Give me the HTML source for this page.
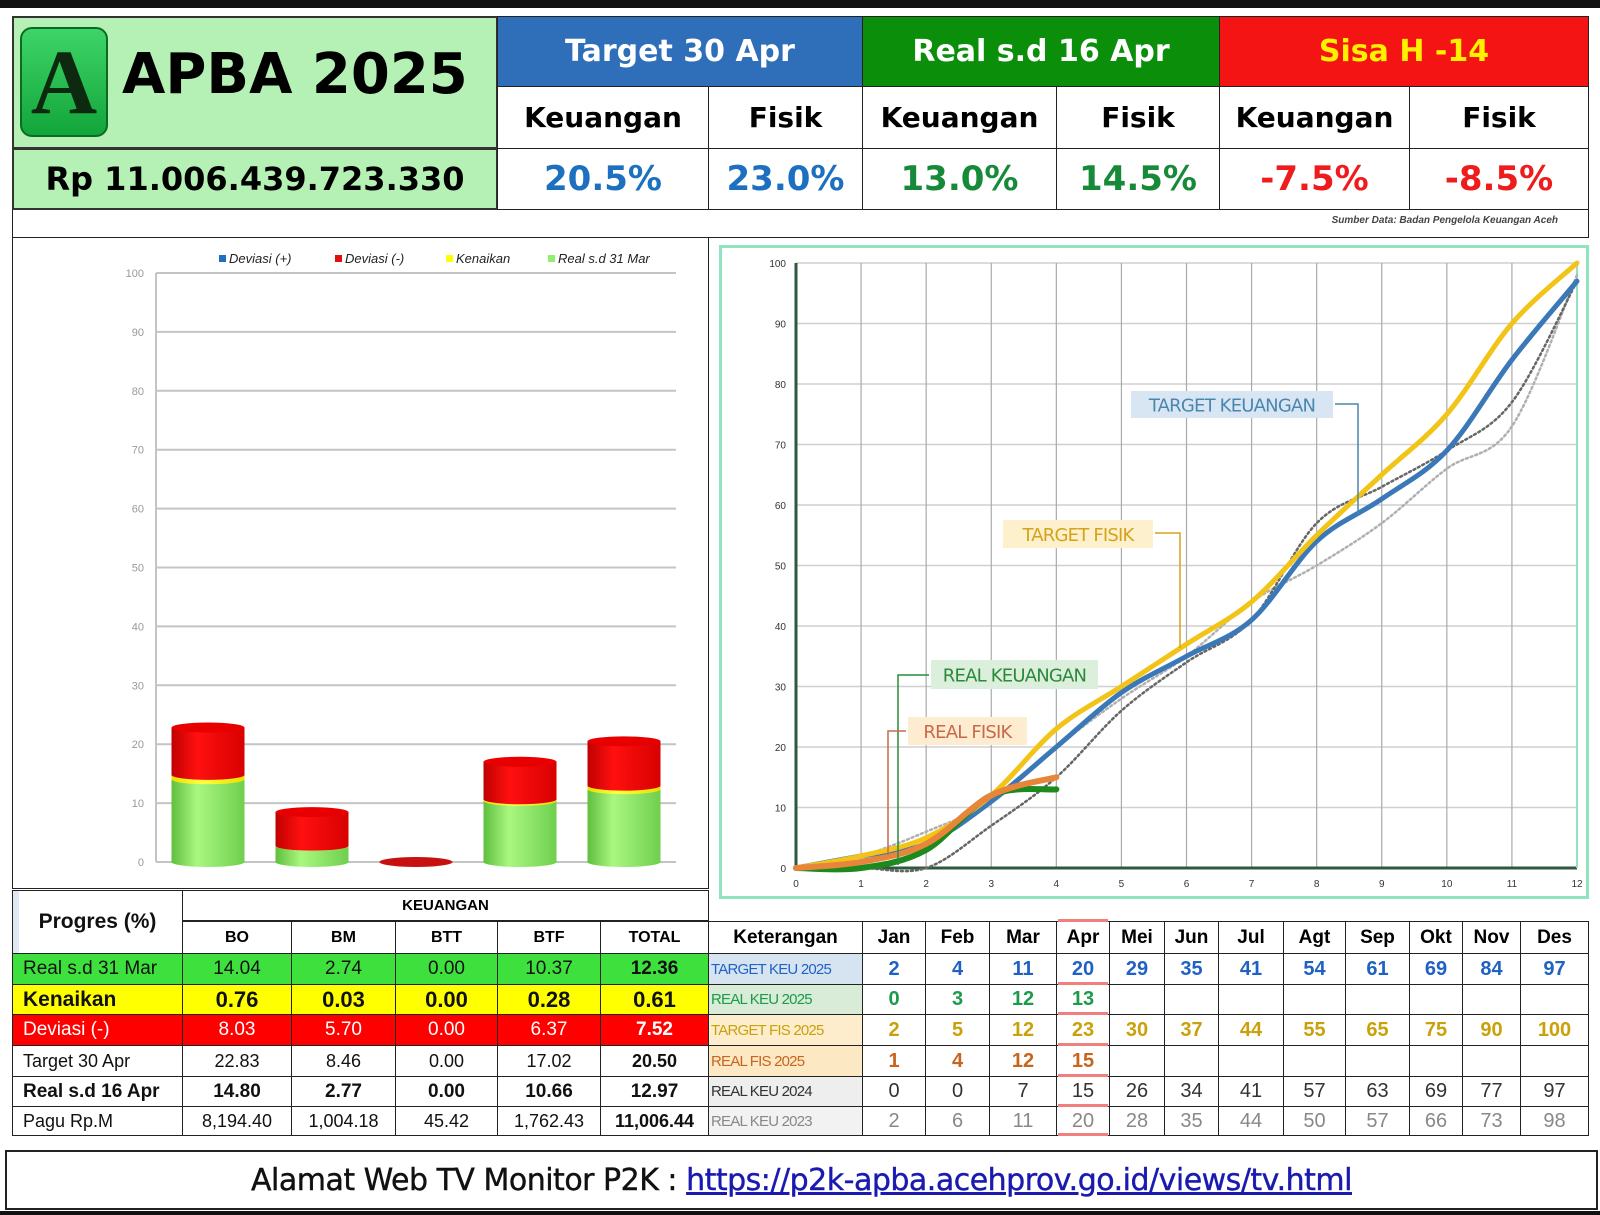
<!DOCTYPE html>
<html><head><meta charset="utf-8"><title>APBA 2025</title>
<style>
*{box-sizing:border-box}
body{margin:0;width:1600px;height:1215px;background:#fff;position:relative;overflow:hidden;font-family:"Liberation Sans",sans-serif}
.a{position:absolute}
.c{position:absolute;display:flex;align-items:center;justify-content:center;border:1px solid #222;white-space:nowrap}
.hb{font-family:"DejaVu Sans","Liberation Sans",sans-serif;font-weight:bold}
.n{font-family:"Liberation Sans Narrow","Liberation Sans",sans-serif}
</style></head><body>
<div class="a" style="left:0;top:0;width:1600px;height:8px;background:#111"></div>
<div class="a" style="left:0;top:1211px;width:1600px;height:4px;background:#111"></div>

<div class="c" style="left:12px;top:16px;width:486px;height:133px;background:#b5f0b5;border:2px solid #333"></div>
<div class="a" style="left:20px;top:27px;width:88px;height:110px;border-radius:12px;background:linear-gradient(#3fd468,#12a63a);border:2px solid #0c6a24;display:flex;align-items:center;justify-content:center;font-family:'Liberation Serif',serif;font-size:92px;font-weight:bold;color:#0d2a10">A</div>
<div class="a hb" style="left:122px;top:42px;font-size:56px;color:#000">APBA 2025</div>
<div class="c hb" style="left:12px;top:148px;width:486px;height:62px;background:#b5f0b5;font-size:32px;border:2px solid #333">Rp 11.006.439.723.330</div>

<div class="c hb" style="left:497px;top:16px;width:366px;height:71px;background:#2f6fba;color:#fff;font-size:30px">Target 30 Apr</div>
<div class="c hb" style="left:862px;top:16px;width:358px;height:71px;background:#0b8f0b;color:#fff;font-size:30px">Real s.d 16 Apr</div>
<div class="c hb" style="left:1219px;top:16px;width:370px;height:71px;background:#f41414;color:#ffef00;font-size:30px">Sisa H -14</div>

<div class="c hb" style="left:497px;top:86px;width:212px;height:63px;font-size:28px">Keuangan</div>
<div class="c hb" style="left:708px;top:86px;width:155px;height:63px;font-size:28px">Fisik</div>
<div class="c hb" style="left:862px;top:86px;width:195px;height:63px;font-size:28px">Keuangan</div>
<div class="c hb" style="left:1056px;top:86px;width:164px;height:63px;font-size:28px">Fisik</div>
<div class="c hb" style="left:1219px;top:86px;width:191px;height:63px;font-size:28px">Keuangan</div>
<div class="c hb" style="left:1409px;top:86px;width:180px;height:63px;font-size:28px">Fisik</div>

<div class="c hb" style="left:497px;top:148px;width:212px;height:62px;font-size:34px;color:#1d70c0">20.5%</div>
<div class="c hb" style="left:708px;top:148px;width:155px;height:62px;font-size:34px;color:#1d70c0">23.0%</div>
<div class="c hb" style="left:862px;top:148px;width:195px;height:62px;font-size:34px;color:#178a3a">13.0%</div>
<div class="c hb" style="left:1056px;top:148px;width:164px;height:62px;font-size:34px;color:#178a3a">14.5%</div>
<div class="c hb" style="left:1219px;top:148px;width:191px;height:62px;font-size:34px;color:#ee1c1c">-7.5%</div>
<div class="c hb" style="left:1409px;top:148px;width:180px;height:62px;font-size:34px;color:#ee1c1c">-8.5%</div>

<div class="a" style="left:12px;top:209px;width:1577px;height:29px;border:1px solid #222;border-top:none"></div>
<div class="a" style="left:1200px;top:215px;width:358px;text-align:right;font-size:10px;font-style:italic;font-weight:bold;color:#444">Sumber Data: Badan Pengelola Keuangan Aceh</div>

<div class="a" style="left:12px;top:237px;width:697px;height:652px;border:1px solid #222;border-top:none"></div>
<div class="a" style="left:719px;top:245px;width:870px;height:654px;border:3px solid #8fe3bf"></div>

<svg class="a" style="left:0;top:0" width="1600" height="1215" id="charts">
<defs>
<linearGradient id="gG" x1="0" x2="1"><stop offset="0" stop-color="#5fbf3f"/><stop offset=".35" stop-color="#a9f77f"/><stop offset="1" stop-color="#6fcf4f"/></linearGradient>
<linearGradient id="gR" x1="0" x2="1"><stop offset="0" stop-color="#c00000"/><stop offset=".35" stop-color="#ff1010"/><stop offset="1" stop-color="#d80000"/></linearGradient>
<linearGradient id="gY" x1="0" x2="1"><stop offset="0" stop-color="#e8e000"/><stop offset=".4" stop-color="#ffff40"/><stop offset="1" stop-color="#e8e000"/></linearGradient>
</defs>
<g id="bars"></g>
<g id="lines"></g>
</svg>

<div id="tables"></div>

<div class="a" style="left:5px;top:1150px;width:1593px;height:60px;border:2px solid #222;display:flex;align-items:center;justify-content:center;font-family:'DejaVu Sans',sans-serif;font-size:30px;color:#111;letter-spacing:-0.5px;-webkit-text-stroke:0.4px #111">
<span>Alamat Web TV Monitor P2K :&nbsp;</span><span style="color:#1a1ab0;text-decoration:underline;-webkit-text-stroke:0.4px #1a1ab0">https://p2k-apba.acehprov.go.id/views/tv.html</span>
</div>

<script>
const NS='http://www.w3.org/2000/svg';
function mk(tag,attrs,parent){const e=document.createElementNS(NS,tag);for(const k in attrs)e.setAttribute(k,attrs[k]);parent.appendChild(e);return e;}

const barCategories=['BO','BM','BTT','BTF','TOTAL'];
const barReal31Mar=[14.04,2.74,0.00,10.37,12.36];
const barKenaikan=[0.76,0.03,0.00,0.28,0.61];
const barDeviasiMin=[8.03,5.70,0.00,6.37,7.52];
const barYTicks=[0,10,20,30,40,50,60,70,80,90,100];

const bg=document.getElementById('bars');
const bx0=156,bx1=676,by0=862,by100=273;
function yB(v){return by0+(by100-by0)*v/100;}
const bandW=(bx1-bx0)/barCategories.length;
function xB(i){return bx0+bandW*(i+0.5);}
barYTicks.forEach(t=>{
  const l=mk('line',{x1:bx0,x2:bx1,y1:yB(t),y2:yB(t),stroke:'#c4c4c4','stroke-width':2},bg);
  
  
  const tx=mk('text',{x:bx0-12,y:yB(t)+4,'text-anchor':'end','font-size':11,fill:'#999','font-family':'Liberation Sans'},bg);
  tx.textContent=t;
  
  
});
const ax=mk('line',{x1:bx0,x2:bx0,y1:by100,y2:by0,stroke:'#c4c4c4','stroke-width':2},bg);


const bw=73,rx=bw/2,ry=5;
barCategories.forEach((c,i)=>{
  const cx=xB(i);
  const segs=[[barReal31Mar[i],'url(#gG)'],[barKenaikan[i],'url(#gY)'],[barDeviasiMin[i],'url(#gR)']];
  let base=0;
  const g=mk('g',{},bg);
  
  
  segs.forEach(s=>{
    const y1=yB(base),y2=yB(base+s[0]);
    if(s[0]>0){
      const p=mk('path',{d:`M${cx-rx},${y2} L${cx-rx},${y1} A${rx},${ry} 0 0 0 ${cx+rx},${y1} L${cx+rx},${y2} Z`,fill:s[1]},g);
      
      
    }
    base+=s[0];
  });
  const top=mk('ellipse',{cx:cx,cy:yB(base),rx:rx,ry:ry,fill:base>0?'#e80000':'#c81010'},g);
  
  
});
const legendItems=[['Deviasi (+)','#1f6fc0',219],['Deviasi  (-)','#e01010',335],['Kenaikan','#ffff00',446],['Real s.d 31 Mar','#90ee70',548]];
legendItems.forEach(L=>{
  const r=mk('rect',{x:L[2],y:255,width:7,height:7,fill:L[1]},bg);
  
  
  const t=mk('text',{x:L[2]+10,y:263,'font-size':13,'font-style':'italic',fill:'#222','font-family':'Liberation Sans Narrow, Liberation Sans'},bg);
  t.textContent=L[0];
  
  
});

const lineX=[0,1,2,3,4,5,6,7,8,9,10,11,12];
const lineXTicks=['0','1','2','3','4','5','6','7','8','9','10','11','12'];
const lineYTicks=[0,10,20,30,40,50,60,70,80,90,100];
const targetKeu2025=[0,2,4,11,20,29,35,41,54,61,69,84,97];
const realKeu2025=[0,0,3,12,13];
const targetFis2025=[0,2,5,12,23,30,37,44,55,65,75,90,100];
const realFis2025=[0,1,4,12,15];
const realKeu2024=[0,0,0,7,15,26,34,41,57,63,69,77,97];
const realKeu2023=[0,2,6,11,20,28,35,44,50,57,66,73,98];

const lg=document.getElementById('lines');
const lx0=796,lx12=1577,ly0=868,ly100=263;
function xL(m){return lx0+(lx12-lx0)*m/12;}
function yL(v){return ly0+(ly100-ly0)*v/100;}
lineYTicks.forEach(t=>{
  const l=mk('line',{x1:lx0,x2:lx12,y1:yL(t),y2:yL(t),stroke:'#cfcfcf','stroke-width':1.5},lg);
  
  
  const tx=mk('text',{x:lx0-10,y:yL(t)+4,'text-anchor':'end','font-size':10,fill:'#333','font-family':'Liberation Sans'},lg);
  tx.textContent=t;
  
  
});
lineX.forEach((m,i)=>{
  const l=mk('line',{x1:xL(m),x2:xL(m),y1:ly100,y2:ly0,stroke:'#aaa','stroke-width':1.2},lg);
  
  
  const tx=mk('text',{x:xL(m),y:ly0+19,'text-anchor':'middle','font-size':10,fill:'#333','font-family':'Liberation Sans'},lg);
  tx.textContent=lineXTicks[i];
  
  
});
const axy=mk('path',{d:`M${lx0},${ly100} L${lx0},${ly0} L${lx12},${ly0}`,fill:'none',stroke:'#2d5a3d','stroke-width':3},lg);


const rb=mk('line',{x1:lx12,x2:lx12,y1:ly100,y2:ly0,stroke:'#8fe3bf','stroke-width':2},lg);



function smooth(vals){
  const p=vals.map((v,i)=>[xL(lineX[i]),yL(v)]);
  let d=`M${p[0][0]},${p[0][1]}`;
  for(let i=0;i<p.length-1;i++){
    const p0=p[Math.max(0,i-1)],p1=p[i],p2=p[i+1],p3=p[Math.min(p.length-1,i+2)];
    const c1=[p1[0]+(p2[0]-p0[0])/6,p1[1]+(p2[1]-p0[1])/6];
    const c2=[p2[0]-(p3[0]-p1[0])/6,p2[1]-(p3[1]-p1[1])/6];
    d+=` C${c1[0]},${c1[1]} ${c2[0]},${c2[1]} ${p2[0]},${p2[1]}`;
  }
  return d;
}
function series(vals,color,w,dash,name){
  const p=mk('path',{d:smooth(vals),fill:'none',stroke:color,'stroke-width':w,'stroke-linecap':'round'},lg);
  if(dash)p.setAttribute('stroke-dasharray',dash);
  
  
}
series(realKeu2023,'#b0b0b0',2.5,'2 3','series-real-keu-2023');
series(realKeu2024,'#666',2.5,'2 3','series-real-keu-2024');
series(targetKeu2025,'#3a78b8',5,null,'series-target-keu-2025');
series(targetFis2025,'#f2c417',5,null,'series-target-fis-2025');
series(realKeu2025,'#1c8a1c',6,null,'series-real-keu-2025');
series(realFis2025,'#e8853a',6,null,'series-real-fis-2025');

function callout(txt,x,y,w,h,bgc,fc,path,lc,name){
  const pl=mk('path',{d:path,fill:'none',stroke:lc,'stroke-width':1.5},lg);
  
  
  const r=mk('rect',{x:x,y:y,width:w,height:h,fill:bgc},lg);
  
  
  const t=mk('text',{x:x+w/2,y:y+h/2+7,'text-anchor':'middle','font-size':18,fill:fc,'font-family':'DejaVu Sans, Liberation Sans','letter-spacing':'-0.8'},lg);
  t.textContent=txt;
  
  
}
callout('TARGET KEUANGAN',1131,391,202,27,'#d8e6f3','#4a86b0','M1335,404 L1358,404 L1358,515','#4a86b0','target-keuangan-callout');
callout('TARGET FISIK',1003,520,150,28,'#fdf0cc','#d6a21a','M1155,533 L1180,533 L1180,648','#d6a21a','target-fisik-callout');
callout('REAL KEUANGAN',931,660,167,29,'#dcefdc','#2a8a3a','M929,675 L898,675 L898,865','#2a8a3a','real-keuangan-callout');
callout('REAL FISIK',908,717,119,28,'#fdecd0','#c86a4a','M906,731 L888,731 L888,855','#c86a4a','real-fisik-callout');

const tbl=document.getElementById('tables');
function cell(x,y,w,h,txt,st,name){
  const d=document.createElement('div');
  d.className='c n';
  d.style.cssText=`left:${x}px;top:${y}px;width:${w+1}px;height:${h+1}px;`+(st||'');
  d.textContent=txt;
  
  
  tbl.appendChild(d);
  return d;
}
const rowY=[953,984,1014,1045,1076,1106,1135];
const leftCols=[12,182,291,395,497,600,708];
const progresLabels=['Real s.d 31 Mar','Kenaikan','Deviasi  (-)','Target 30 Apr','Real s.d 16 Apr','Pagu Rp.M'];
const progresValues=[
 ['14.04','2.74','0.00','10.37','12.36'],
 ['0.76','0.03','0.00','0.28','0.61'],
 ['8.03','5.70','0.00','6.37','7.52'],
 ['22.83','8.46','0.00','17.02','20.50'],
 ['14.80','2.77','0.00','10.66','12.97'],
 ['8,194.40','1,004.18','45.42','1,762.43','11,006.44']];
const rowStyles=[
 'background:#3ee03e;font-size:19px;color:#111;',
 'background:#ffff00;font-size:22px;font-weight:bold;color:#111;',
 'background:#f00;font-size:19px;color:#fff;',
 'background:#fff;font-size:18px;color:#111;',
 'background:#fff;font-size:19px;font-weight:bold;color:#111;',
 'background:#fff;font-size:18px;color:#111;'];
cell(12,890,170,63,'Progres (%)','background:linear-gradient(90deg,#dfe8f3 0 6px,#fff 6px);font-size:21px;font-weight:bold;color:#111;','progres-header');
cell(182,890,526,31,'KEUANGAN','font-size:15px;font-weight:bold;border-bottom:2px solid #222;','keuangan-header');
barCategories.forEach((c,i)=>cell(leftCols[i+1],921,leftCols[i+2]-leftCols[i+1],32,c,'font-size:16px;font-weight:bold;','col-'+c.toLowerCase()));
progresLabels.forEach((lab,r)=>{
  cell(12,rowY[r],170,rowY[r+1]-rowY[r],lab,rowStyles[r]+'justify-content:flex-start;padding-left:10px;'+(r==1?'font-size:21px;':''),'row-label');
  progresValues[r].forEach((v,i)=>{
    cell(leftCols[i+1],rowY[r],leftCols[i+2]-leftCols[i+1],rowY[r+1]-rowY[r],v,rowStyles[r]+(i==4?'font-weight:bold;':''),'progres-value');
  });
});

const rightCols=[708,862,925,989,1056,1109,1164,1218,1283,1345,1409,1462,1520,1588];
const months=['Jan','Feb','Mar','Apr','Mei','Jun','Jul','Agt','Sep','Okt','Nov','Des'];
const ketLabels=['TARGET KEU 2025','REAL KEU 2025','TARGET FIS 2025','REAL FIS 2025','REAL KEU 2024','REAL KEU 2023'];
const ketBg=['#d6e4f2','#d8ecd8','#fdedcc','#fde8c4','#eeeeee','#f2f2f2'];
const ketColor=['#1f62c4','#1d9a4a','#caa10a','#c8641e','#333','#888'];
const monthlyRows=[targetKeu2025.slice(1),realKeu2025.slice(1),targetFis2025.slice(1),realFis2025.slice(1),realKeu2024.slice(1),realKeu2023.slice(1)];
cell(708,921,154,32,'Keterangan','font-size:19px;font-weight:bold;','keterangan-header');
months.forEach((m,i)=>cell(rightCols[i+1],921,rightCols[i+2]-rightCols[i+1],32,m,'font-size:19px;font-weight:bold;','month-header'));
ketLabels.forEach((k,r)=>{
  cell(708,rowY[r],154,rowY[r+1]-rowY[r],k,`background:${ketBg[r]};color:${ketColor[r]};font-size:15px;justify-content:flex-start;padding-left:2px;letter-spacing:-0.8px;`,'keterangan-label');
  months.forEach((m,i)=>{
    const v=monthlyRows[r][i];
    cell(rightCols[i+1],rowY[r],rightCols[i+2]-rightCols[i+1],rowY[r+1]-rowY[r],v===undefined?'':String(v),`color:${ketColor[r]};font-size:20px;`+(r<4?'font-weight:bold;':''),'monthly-value');
  });
});
for(let r=0;r<7;r++){
  const d=document.createElement('div');
  d.className='a';
  d.style.cssText=`left:1058px;top:${(r==0?921:rowY[r])-2}px;width:50px;height:3px;background:#f08080;`;
  
  
  tbl.appendChild(d);
}
</script>
</body></html>
